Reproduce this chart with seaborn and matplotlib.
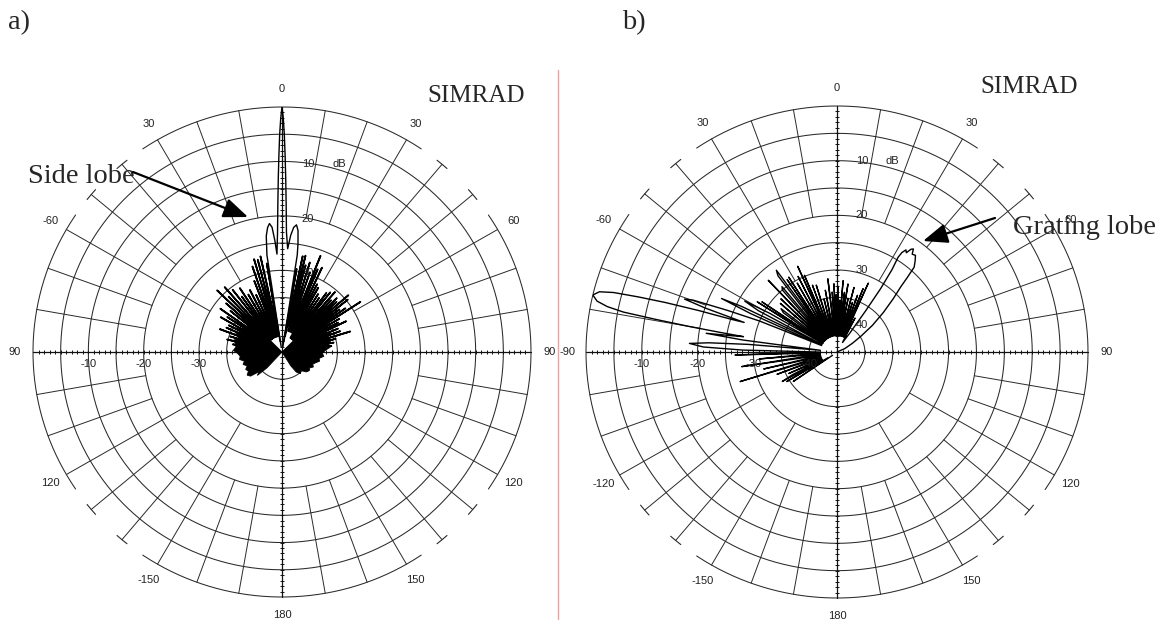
import numpy as np
import pandas as pd
import matplotlib
matplotlib.use("Agg")
import matplotlib.pyplot as plt
import seaborn as sns

sns.set_style("white")
plt.rcParams["font.family"] = ["Liberation Sans", "DejaVu Sans"]

# ---------------- labels ----------------
angle_ticks = [0, -30, 30, -60, 60, -90, 90, -120, 120, -150, 150, 180]
a_angle_labels = ["0", "30", "30", "-60", "60", "90", "90", "120", "120", "-150", "150", "180"]
b_angle_labels = ["0", "30", "30", "-60", "60", "-90", "90", "-120", "120", "-150", "150", "180"]
db_levels = [-10, -20, -30, -40]
db_labels = ["10", "20", "30", "40"]
h_labels = ["-10", "-20", "-30", "-40"]

# ---------------- panel a : beam pattern (deg, dB) ----------------
a_main_deg = [-9.0, -8.7, -7.6, -6.5, -5.5, -4.5, -3.6, -2.9, -2.1, -1.6, -1.2, -0.9, -0.6, -0.3, 0.0,
              0.3, 0.6, 0.9, 1.2, 1.6, 2.1, 3.1, 4.2, 5.3, 6.4, 7.4, 8.3, 8.8, 9.1]
a_main_db = [-44, -27, -23.5, -22, -21.3, -22, -24.5, -27, -23, -18, -13, -9, -5, -2, 0,
             -2, -5, -9, -13, -18, -23, -26, -23.5, -22, -21.5, -22.5, -25, -27, -44]

a_left_spike_deg = [-9.3, -9.6, -10.9, -12.5, -13.5, -14.5, -15.5, -16.5, -17.6, -18.8, -19.9, -21.0,
                    -22.5, -24.0, -25.5, -27.0, -28.5, -30.0, -31.5, -33.0, -34.3, -35.5, -36.8, -38.0,
                    -39.5, -41.0, -42.3, -43.5, -44.8, -46.0, -47.3, -48.5, -49.8, -51.0, -52.8, -54.5,
                    -55.8, -57.0, -58.5, -60.0, -61.5, -63.0, -64.5, -66.0, -67.8, -69.5, -71.3, -73.0,
                    -75.0, -77.0, -79.0, -81.0, -83.0]
a_left_spike_db = [-43, -28.5, -42, -27.0, -42, -27.5, -42, -27.2, -42, -28.4, -42, -31.0,
                   -42, -33.5, -42, -32.2, -42, -32.8, -42, -31.0, -42, -32.5, -42, -30.5,
                   -42, -29.2, -42, -31.0, -42, -28.7, -42, -31.5, -42, -33.0, -42, -31.3,
                   -42, -33.2, -42, -32.2, -42, -34.2, -42, -34.0, -42, -33.0, -42, -35.2,
                   -42, -34.8, -42, -36.0, -42]

a_right_spike_deg = [9.4, 9.8, 10.9, 12.0, 12.7, 13.5, 14.2, 15.0, 16.0, 17.0, 18.0, 19.0, 20.3, 21.5,
                     22.2, 23.0, 24.0, 25.0, 26.0, 27.0, 28.0, 29.0, 30.3, 31.5, 32.8, 34.0, 35.3, 36.5,
                     37.5, 38.5, 39.8, 41.0, 42.0, 43.0, 44.0, 45.0, 46.0, 47.0, 48.0, 49.0, 50.0, 51.0,
                     52.0, 53.0, 54.0, 55.0, 56.0, 57.0, 58.2, 59.5, 60.8, 62.0, 63.0, 64.0, 65.5, 67.0,
                     68.5, 70.0, 71.5, 73.0, 74.5, 76.0, 77.8, 79.5, 81.2, 83.0, 85.0]
a_right_spike_db = [-43, -29.5, -42, -27.0, -40, -26.8, -40, -28.5, -41, -27.8, -41, -29.5, -41, -26.0,
                    -40, -28.5, -41, -27.9, -41, -31.0, -41, -31.5, -42, -32.5, -42, -33.0, -42, -31.5,
                    -42, -31.0, -42, -30.4, -42, -32.0, -42, -31.0, -42, -31.5, -42, -29.1, -42, -29.7,
                    -42, -32.0, -42, -31.0, -42, -28.1, -42, -33.0, -42, -33.5, -42, -32.1, -42, -34.0,
                    -42, -33.8, -42, -32.1, -42, -35.0, -42, -35.5, -42, -36.0, -42]

a_blob_left_deg = [-40, -45, -50, -55, -58, -62, -65, -68, -72, -76, -80, -84, -88, -92, -96, -100,
                   -104, -108, -112, -116, -120, -124, -128, -131, -134, -137, -140]
a_blob_left_db = [-45, -39, -38, -36.5, -37.5, -35.5, -37, -36, -36.8, -36, -36.5, -36.6, -36.2, -37,
                  -37.4, -37.2, -38, -37.6, -38.2, -37.7, -38, -37.4, -37.8, -39.5, -38.8, -41, -45]
a_blob_right_deg = [40, 45, 50, 55, 60, 64, 68, 72, 76, 80, 84, 88, 92, 96, 100, 104, 108, 112, 116,
                    120, 125, 130, 135, 140, 145, 148, 150]
a_blob_right_db = [-45, -39, -37.5, -37, -36, -36.5, -35.5, -36.3, -35.8, -36.5, -36.2, -37.2, -37.7,
                   -37.4, -38.2, -38, -38.6, -39, -38.7, -39.2, -39, -39.3, -40.2, -39.8, -40.5, -42, -45]

# ---------------- panel b : beam pattern (deg, dB) ----------------
b_low_deg = [-127, -124.5, -123, -121, -120, -118.8, -117.5, -116.5, -114.5, -113, -110.8, -109.3,
             -107.3, -105.5, -103.3, -101.5, -98.9, -97.2, -95.2, -93.5, -91.7, -90.3, -88.8, -87.8,
             -86.6, -85.8, -85.0, -84.0, -82.6, -81.7, -81.0]
b_low_db = [-44, -35.5, -43, -34.5, -42, -33.8, -36, -42, -35.5, -42, -33.5, -42,
            -26.8, -42, -31.5, -42, -27.7, -42, -31, -42, -26.7, -42, -28, -21,
            -18.5, -22, -29, -42, -28, -21.3, -26]
b_main_deg = [-80.5, -80.3, -80.0, -79.6, -79.2, -78.6, -77.8, -76.6, -75.5, -74.8, -74.2, -73.6,
              -73.0, -72.5, -72.0]
b_main_db = [-28, -24, -18, -12, -6, -3, -1, 0, -1, -3.5, -8, -13, -19, -25, -27.5]
b_side_deg = [-71.2, -70.5, -69.8, -68.8, -67.8, -66.8, -65.6, -64.7, -64.0, -63.2, -61.8, -60.6,
              -59.6, -58.6, -57.3, -56.6, -55.7, -54.5]
b_side_db = [-20, -16, -17.5, -24, -30, -42, -28, -22.1, -26, -42, -29, -26,
             -31, -42, -28, -42, -28.7, -42]
b_up_deg = [-53.2, -51.7, -50.5, -48.8, -47.5, -46.0, -44.7, -43.2, -42.0, -40.8, -39.5, -38.3,
            -37.2, -36.0, -35.0, -34.0, -33.2, -32.3, -31.0, -29.5, -28.2, -26.8, -25.8, -24.2,
            -23.4, -22.6, -21.3, -19.8, -18.5, -16.9, -15.5, -13.5, -12.0, -10.5, -9.0, -7.0,
            -5.8, -4.5, -3.5, -2.5, -1.7, -0.8, 0.0, 1.0, 2.0, 2.8, 3.8, 4.8,
            5.8, 7.0, 8.0, 9.0, 10.2, 11.5, 12.8, 14.5, 15.8, 17.0, 18.2, 19.5,
            20.8, 22.0, 23.0, 24.0, 25.5, 27.5, 29.5]
b_up_db = [-33, -32.2, -42, -31.5, -42, -31, -42, -27, -42, -30, -29.5, -42,
           -27.5, -26.5, -42, -29, -42, -28.8, -42, -30.5, -42, -29.5, -42, -27.8,
           -42, -29.8, -42, -32, -42, -32.2, -42, -35, -42, -33.5, -42, -31.5,
           -42, -34, -42, -32.5, -42, -34.5, -42, -33, -42, -35.5, -42, -31.9,
           -42, -34, -42, -32.4, -42, -35, -42, -32.8, -42, -35.5, -42, -34,
           -42, -32.5, -42, -31.2, -42, -38, -43]
b_grating_deg = [33.5, 34.3, 34.0, 33.2, 32.3, 32.6, 33.5, 34.4, 35.2, 36.0, 37.0, 38.5, 40.0, 41.7,
                 42.8, 43.8, 46.0, 49.0, 52.5, 56.0, 60.0, 66.0, 72.0]
b_grating_db = [-41, -36, -31, -27, -24.5, -23.4, -22.6, -23.0, -22.0, -21.7, -22.6, -22.4, -23.2,
                -24.2, -26.5, -28.5, -31.0, -34.0, -37.0, -39.8, -41.8, -43.5, -45]

# ---------------- figure ----------------
W, H = 1170, 620
fig = plt.figure(figsize=(W / 100, H / 100), dpi=100)
fig.patch.set_facecolor("white")

GC = "#2a2a2a"
OUTER_ARCS = [(-34, 34), (56, 124), (146, 214), (236, 304)]
CAPS = [40, 50, 130, 140, 220, 230, 310, 320]


def polar_axes(cx, cy, rx, ry):
    rect = [(cx - rx) / W, (H - cy - ry) / H, 2 * rx / W, 2 * ry / H]
    ax = fig.add_axes(rect, projection="polar")
    ax.set_aspect("auto")
    ax.set_theta_zero_location("N")
    ax.set_theta_direction(-1)
    ax.grid(False)
    ax.set_xticks([])
    ax.set_yticks([])
    ax.spines["polar"].set_visible(False)
    ax.patch.set_visible(False)
    ax.set_ylim(-45, 0)
    return ax


def draw_grid(ax):
    th = np.linspace(0, 2 * np.pi, 721)
    for lev in range(-40, 0, 5):
        ax.plot(th, np.full_like(th, lev), color=GC, lw=0.75, zorder=1, clip_on=False)
    for a0, a1 in OUTER_ARCS:
        t = np.deg2rad(np.linspace(a0, a1, 150))
        ax.plot(t, np.zeros_like(t), color=GC, lw=0.75, zorder=1, clip_on=False)
    for d in range(0, 360, 10):
        if d % 90 == 0:
            continue
        inner = -30 if d % 30 == 0 else -20
        ax.plot([np.deg2rad(d)] * 2, [inner, 0], color=GC, lw=0.7, zorder=1, clip_on=False)
    for d in CAPS:
        t = np.deg2rad(np.linspace(d - 1.5, d + 1.5, 6))
        ax.plot(t, np.zeros_like(t), color=GC, lw=0.8, zorder=1, clip_on=False)
    lv = np.arange(-44, 0, 1)
    for d in (0, 90, 180, 270):
        ax.plot([np.deg2rad(d)] * 2, [0, -45], color="#111111", lw=0.9, zorder=1, clip_on=False)
        ax.plot(np.full(lv.shape, np.deg2rad(d)), lv, ls="none",
                marker="_" if d in (0, 180) else "|", ms=3.5, mew=0.7, color="#111111",
                zorder=1, clip_on=False)


def pattern(ax, deg, db, lw=1.0):
    df = pd.DataFrame({"theta": np.deg2rad(np.asarray(deg, float)), "level": db})
    sns.lineplot(data=df, x="theta", y="level", ax=ax, sort=False, estimator=None,
                 color="black", lw=lw, zorder=3)
    ax.set_xlabel("")
    ax.set_ylabel("")


def angle_labels(ax, labels):
    for d, lab in zip(angle_ticks, labels):
        ax.text(np.deg2rad(d), 3.3, lab, ha="center", va="center", fontsize=8,
                color="#222222", zorder=4)


# ---- panel a ----
axa = polar_axes(282, 352, 249, 245)
draw_grid(axa)
axa.fill(np.deg2rad(a_blob_left_deg), a_blob_left_db, color="black", lw=0.6, zorder=3)
axa.fill(np.deg2rad(a_blob_right_deg), a_blob_right_db, color="black", lw=0.6, zorder=3)
pattern(axa, a_left_spike_deg, a_left_spike_db, lw=1.25)
pattern(axa, a_right_spike_deg, a_right_spike_db, lw=1.25)
pattern(axa, a_main_deg, a_main_db, lw=1.0)
angle_labels(axa, a_angle_labels)
for lev, lab in zip(db_levels[:3], db_labels[:3]):
    axa.annotate(lab, xy=(0, lev), xytext=(26, -3), textcoords="offset pixels",
                 ha="center", va="center", fontsize=8, color="#222222", zorder=4)
axa.annotate("dB", xy=(0, -10), xytext=(57, -3), textcoords="offset pixels",
             ha="center", va="center", fontsize=8, color="#222222", zorder=4)
for lev, lab in zip(db_levels[:3], h_labels[:3]):
    axa.annotate(lab, xy=(-np.pi / 2, lev), xytext=(0, -12), textcoords="offset pixels",
                 ha="center", va="center", fontsize=8, color="#222222", zorder=4)
axa.set_ylim(-45, 0)

# ---- panel b ----
axb = polar_axes(837, 352, 251, 246)
draw_grid(axb)
b_deg = b_low_deg + b_main_deg + b_side_deg + b_up_deg + b_grating_deg
b_db = b_low_db + b_main_db + b_side_db + b_up_db + b_grating_db
pattern(axb, b_deg, b_db, lw=1.0)
angle_labels(axb, b_angle_labels)
for lev, lab in zip(db_levels, db_labels):
    axb.annotate(lab, xy=(0, lev), xytext=(25, 0), textcoords="offset pixels",
                 ha="center", va="center", fontsize=8, color="#222222", zorder=4)
axb.annotate("dB", xy=(0, -10), xytext=(55, 0), textcoords="offset pixels",
             ha="center", va="center", fontsize=8, color="#222222", zorder=4)
for lev, lab in zip(db_levels, h_labels):
    axb.annotate(lab, xy=(-np.pi / 2, lev), xytext=(0, -12), textcoords="offset pixels",
                 ha="center", va="center", fontsize=8, color="#222222", zorder=4)
axb.set_ylim(-45, 0)

# ---- overlay (pixel coordinates) ----
ov = fig.add_axes([0, 0, 1, 1])
ov.set_xlim(0, W)
ov.set_ylim(H, 0)
ov.axis("off")
ov.plot([558, 558], [70, H], color="#f0a0a0", lw=1.0)
serif = ["Liberation Serif", "DejaVu Serif"]
ov.text(8, 29, "a)", fontsize=20.5, family=serif, ha="left", va="baseline")
ov.text(622, 29, "b)", fontsize=20.5, family=serif, ha="left", va="baseline")
ov.text(476, 102, "SIMRAD", fontsize=18, family=serif, ha="center", va="baseline")
ov.text(1029, 93, "SIMRAD", fontsize=18, family=serif, ha="center", va="baseline")
ov.text(28, 183, "Side lobe", fontsize=20.5, family=serif, ha="left", va="baseline")
ov.text(1013, 234, "Grating lobe", fontsize=20.5, family=serif, ha="left", va="baseline")
arrow = dict(arrowstyle="-|>,head_length=0.75,head_width=0.3", mutation_scale=20,
             lw=1.6, color="black", shrinkA=0, shrinkB=0)
ov.annotate("", xy=(248, 217), xytext=(133, 172), arrowprops=arrow)
ov.annotate("", xy=(923, 241), xytext=(995, 218), arrowprops=arrow)

fig.savefig("out.png", dpi=100, facecolor="white")
